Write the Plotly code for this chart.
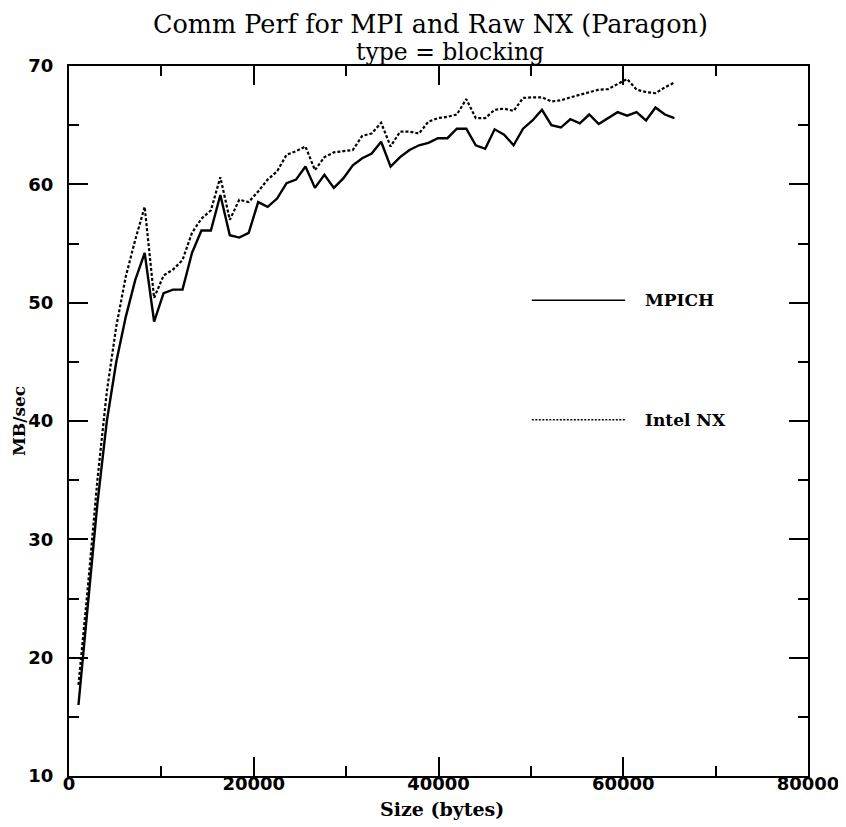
import plotly.graph_objects as go

sizes = [1024, 2048, 3072, 4096, 5120, 6144, 7168, 8192,
         9216, 10240, 11264, 12288, 13312, 14336, 15360, 16384,
         17408, 18432, 19456, 20480, 21504, 22528, 23552, 24576,
         25600, 26624, 27648, 28672, 29696, 30720, 31744, 32768,
         33792, 34816, 35840, 36864, 37888, 38912, 39936, 40960,
         41984, 43008, 44032, 45056, 46080, 47104, 48128, 49152,
         50176, 51200, 52224, 53248, 54272, 55296, 56320, 57344,
         58368, 59392, 60416, 61440, 62464, 63488, 64512, 65536]

mpich = [16.0, 24.5, 33.0, 40.0, 45.0, 48.8, 51.9, 54.2,
         48.4, 50.8, 51.1, 51.1, 54.2, 56.1, 56.1, 59.1,
         55.7, 55.5, 55.9, 58.5, 58.1, 58.8, 60.1, 60.4,
         61.5, 59.7, 60.8, 59.7, 60.5, 61.6, 62.2, 62.6,
         63.6, 61.5, 62.3, 62.9, 63.3, 63.5, 63.9, 63.9,
         64.7, 64.7, 63.3, 63.0, 64.65, 64.2, 63.3, 64.7,
         65.4, 66.3, 65.0, 64.8, 65.5, 65.15, 65.9, 65.1,
         65.6, 66.1, 65.8, 66.1, 65.4, 66.5, 65.9, 65.6]

intel_nx = [17.7, 26.0, 35.0, 42.5, 48.0, 52.2, 55.3, 58.1,
            50.4, 52.3, 52.8, 53.6, 55.9, 57.1, 57.8, 60.6,
            57.0, 58.7, 58.5, 59.4, 60.4, 61.1, 62.5, 62.8,
            63.2, 61.2, 62.3, 62.7, 62.8, 62.9, 64.1, 64.3,
            65.2, 63.2, 64.45, 64.45, 64.3, 65.3, 65.6, 65.7,
            65.9, 67.2, 65.6, 65.6, 66.3, 66.4, 66.2, 67.3,
            67.35, 67.35, 67.0, 67.1, 67.35, 67.55, 67.8, 68.0,
            68.05, 68.5, 68.9, 68.0, 67.8, 67.7, 68.2, 68.6]

series_names = ["MPICH", "Intel NX"]
x_ticks = [0, 20000, 40000, 60000, 80000]
y_ticks = [10, 20, 30, 40, 50, 60, 70]
title_line1 = "Comm Perf for MPI and Raw NX (Paragon)"
title_line2 = "type = blocking"
x_title = "Size (bytes)"
y_title = "MB/sec"

# in-plot key positions (data coordinates)
key_x0, key_x1, key_text_x = 50100, 60200, 62100
key_y = [50.2, 40.1]

SERIF = "DejaVu Serif"
SANS = "DejaVu Sans"

fig = go.Figure()
fig.add_trace(go.Scatter(x=sizes, y=mpich, mode="lines", name=series_names[0],
                         line=dict(color="black", width=2.4)))
fig.add_trace(go.Scatter(x=sizes, y=intel_nx, mode="lines", name=series_names[1],
                         line=dict(color="black", width=2.2, dash="3px,2px")))

dashes = ["solid", "2px,1.5px"]
for i, name in enumerate(series_names):
    fig.add_shape(type="line", xref="x", yref="y", x0=key_x0, x1=key_x1,
                  y0=key_y[i], y1=key_y[i],
                  line=dict(color="black", width=1.6, dash=dashes[i]))
    fig.add_annotation(x=key_text_x, y=key_y[i], xref="x", yref="y", text="<b>%s</b>" % name,
                       showarrow=False, xanchor="left", yanchor="middle",
                       font=dict(family=SERIF, size=17, color="black"))

# titles (paper coords: plot area is 739 x 710 px, top edge at page y=66)
fig.add_annotation(x=0.4885, y=1.059, xref="paper", yref="paper", text=title_line1,
                   showarrow=False, xanchor="center", yanchor="middle",
                   font=dict(family=SERIF, size=25.5, color="black"))
fig.add_annotation(x=0.516, y=1.0197, xref="paper", yref="paper", text=title_line2,
                   showarrow=False, xanchor="center", yanchor="middle",
                   font=dict(family=SERIF, size=23.5, color="black"))
fig.add_annotation(x=0.505, y=-0.0465, xref="paper", yref="paper", text="<b>%s</b>" % x_title,
                   showarrow=False, xanchor="center", yanchor="middle",
                   font=dict(family=SERIF, size=19, color="black"))
fig.add_annotation(x=-0.0677, y=0.5, xref="paper", yref="paper", text="<b>%s</b>" % y_title,
                   showarrow=False, xanchor="center", yanchor="middle", textangle=-90,
                   font=dict(family=SERIF, size=17, color="black"))

axis_common = dict(showgrid=False, zeroline=False, showline=True, linecolor="black",
                   linewidth=2.4, mirror="ticks", ticks="inside", ticklen=19,
                   tickwidth=2, tickcolor="black", automargin=False,
                   tickfont=dict(family=SANS, size=18, color="black", weight="bold"))

fig.update_xaxes(range=[0, 80000], tickmode="array", tickvals=x_ticks,
                 ticktext=[str(v) for v in x_ticks], ticklabelstandoff=-10,
                 minor=dict(ticks="inside", ticklen=10, tickwidth=2, tickcolor="black",
                            dtick=10000, showgrid=False),
                 **axis_common)
fig.update_yaxes(range=[10, 70], tickmode="array", tickvals=y_ticks,
                 ticktext=[str(v) for v in y_ticks], ticklabelstandoff=10,
                 minor=dict(ticks="inside", ticklen=10, tickwidth=2, tickcolor="black",
                            dtick=5, showgrid=False),
                 **axis_common)

fig.update_layout(width=846, height=827, margin=dict(l=61, r=46, t=58, b=59, autoexpand=False),
                  paper_bgcolor="white", plot_bgcolor="white", showlegend=False)

fig.write_html("out.html")
